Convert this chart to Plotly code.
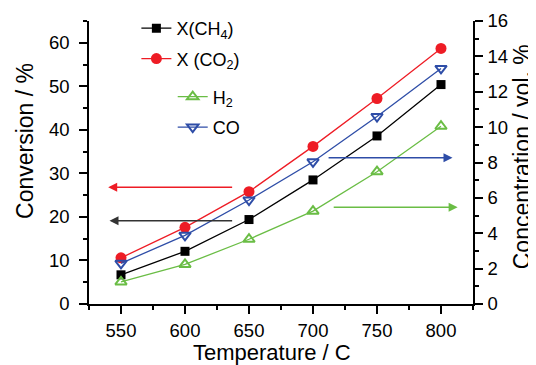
import plotly.graph_objects as go

# ---- data ----
temperature = [550, 600, 650, 700, 750, 800]
x_ch4 = [6.7, 12.1, 19.4, 28.5, 38.6, 50.4]      # conversion %, left axis
x_co2 = [10.6, 17.6, 25.8, 36.2, 47.2, 58.7]     # conversion %, left axis
h2 = [1.25, 2.24, 3.66, 5.25, 7.48, 10.05]       # concentration vol.%, right axis
co = [2.3, 3.88, 5.88, 8.04, 10.6, 13.32]        # concentration vol.%, right axis

x_ticks = [550, 600, 650, 700, 750, 800]
y1_ticks = [0, 10, 20, 30, 40, 50, 60]
y2_ticks = [0, 2, 4, 6, 8, 10, 12, 14, 16]

# arrows: (tail_x, head_x, y, axis)
arrow_co2 = (638, 540, 26.8, "y")
arrow_ch4 = (638, 541, 19.1, "y")
arrow_co = (711, 809, 8.27, "y2")
arrow_h2 = (715, 813, 5.47, "y2")

RED = "#ee1c25"
BLUE = "#2e4da7"
GREEN = "#6abd45"
BLACK = "#000000"
FONT = "Liberation Sans, Arial, sans-serif"

fig = go.Figure()
fig.add_trace(go.Scatter(x=temperature, y=x_ch4, name="X(CH<sub>4</sub>)", mode="lines+markers",
                         line=dict(color=BLACK, width=1.3),
                         marker=dict(symbol="square", size=9, color=BLACK),
                         legend="legend", legendgroup="a"))
fig.add_trace(go.Scatter(x=temperature, y=x_co2, name="X (CO<sub>2</sub>)", mode="lines+markers",
                         line=dict(color=RED, width=1.3),
                         marker=dict(symbol="circle", size=11, color=RED),
                         legend="legend", legendgroup="b"))
fig.add_trace(go.Scatter(x=temperature, y=h2, name="H<sub>2</sub>", mode="lines+markers", yaxis="y2",
                         line=dict(color=GREEN, width=1.3),
                         marker=dict(symbol="triangle-up-open", size=10, color=GREEN, line=dict(width=2)),
                         legend="legend2", legendgroup="c"))
fig.add_trace(go.Scatter(x=temperature, y=co, name="CO", mode="lines+markers", yaxis="y2",
                         line=dict(color=BLUE, width=1.3),
                         marker=dict(symbol="triangle-down-open", size=10, color=BLUE, line=dict(width=2)),
                         legend="legend2", legendgroup="d"))

for (tx, hx, yy, ax), col in [(arrow_co2, RED), (arrow_ch4, "#333333"), (arrow_co, BLUE), (arrow_h2, GREEN)]:
    fig.add_annotation(x=hx, y=yy, ax=tx, ay=yy, xref="x", yref=ax, axref="x", ayref=ax,
                       showarrow=True, arrowhead=2, arrowsize=1.2, arrowwidth=1.5, arrowcolor=col, text="")

# axis titles as positioned text
TITLE_FONT = dict(family=FONT, size=23, color="black")
fig.add_annotation(text="Temperature / C", xref="paper", yref="paper", x=0.4766, y=-0.171,
                   xanchor="center", yanchor="middle", showarrow=False,
                   font=dict(family=FONT, size=22, color="black"))
fig.add_annotation(text="Conversion / %", xref="paper", yref="paper", x=-0.1667, y=0.576,
                   xanchor="center", yanchor="middle", textangle=-90, showarrow=False, font=TITLE_FONT)
fig.add_annotation(text="Concentration / vol. %", xref="paper", yref="paper", x=1.128, y=0.519,
                   xanchor="center", yanchor="middle", textangle=-90, showarrow=False, font=TITLE_FONT)

axis_common = dict(showline=True, linecolor="black", linewidth=1.5, ticks="outside", ticklen=8,
                   tickwidth=1.5, tickcolor="black", showgrid=False, zeroline=False, automargin=False,
                   tickfont=dict(family=FONT, size=18.5, color="black"),
                   minor=dict(ticks="outside", ticklen=4, tickwidth=1.5, tickcolor="black", showgrid=False))

fig.update_layout(
    width=528, height=357,
    margin=dict(l=81, r=63, t=13, b=61, autoexpand=False),
    plot_bgcolor="white", paper_bgcolor="white",
    font=dict(family=FONT, color="black"),
    xaxis=dict(range=[525, 825], tickvals=x_ticks, ticklabelstandoff=1, **axis_common),
    yaxis=dict(range=[0, 65], tickvals=y1_ticks, ticklabelstandoff=6, **axis_common),
    yaxis2=dict(range=[0, 16], tickvals=y2_ticks, overlaying="y", side="right", ticklabelstandoff=1,
                **axis_common),
    legend=dict(x=0.1234, y=1.039, xanchor="left", yanchor="top", bgcolor="rgba(0,0,0,0)",
                font=dict(family=FONT, size=18), tracegroupgap=4),
    legend2=dict(x=0.218, y=0.797, xanchor="left", yanchor="top", bgcolor="rgba(0,0,0,0)",
                 font=dict(family=FONT, size=18), tracegroupgap=4),
    showlegend=True,
)
fig.update_xaxes(minor=dict(dtick=25, tick0=525))
fig.update_yaxes(minor=dict(dtick=5, tick0=0))
fig.update_layout(yaxis2=dict(minor=dict(dtick=1, tick0=0)))

fig.write_html("out.html")
